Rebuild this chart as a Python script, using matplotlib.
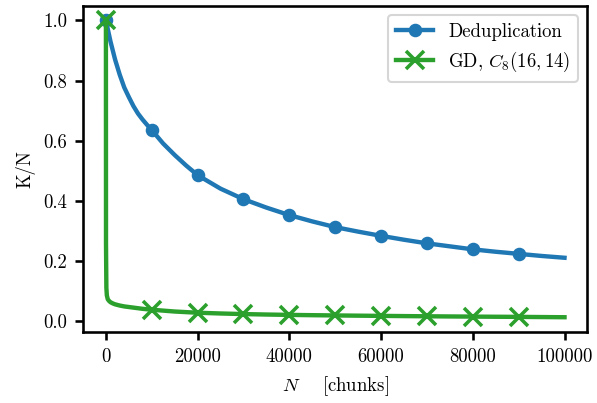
import numpy as np
import matplotlib
matplotlib.use("Agg")
import matplotlib.pyplot as plt

plt.rcParams.update({
    "font.family": "serif",
    "font.serif": ["cmr10"],
    "mathtext.fontset": "cm",
    "axes.formatter.use_mathtext": True,
    "font.size": 9,
    "axes.linewidth": 1.25,
    "xtick.major.width": 1.25,
    "ytick.major.width": 1.25,
    "xtick.major.size": 4,
    "ytick.major.size": 4,
})

# Deduplication series
dedup_n = [0, 1000, 2000, 3000, 4000, 5000, 6000, 7000, 8000, 9000, 10000,
           12500, 15000, 17500, 20000, 25000, 30000, 35000, 40000, 45000,
           50000, 55000, 60000, 65000, 70000, 75000, 80000, 85000, 90000,
           95000, 100000]
dedup_k = [1.0, 0.93, 0.87, 0.82, 0.777, 0.745, 0.715, 0.69, 0.67, 0.652, 0.635,
           0.59, 0.552, 0.517, 0.485, 0.44, 0.405, 0.377, 0.352, 0.331,
           0.312, 0.297, 0.283, 0.27, 0.258, 0.248, 0.238, 0.23, 0.223,
           0.216, 0.21]

# GD, C8(16,14) series
gd_n = [0, 20, 50, 100, 200, 400, 700, 1000, 1500, 2000, 3000, 4000, 5000,
        6000, 7000, 8000, 9000, 10000, 15000, 20000, 25000, 30000, 35000,
        40000, 45000, 50000, 55000, 60000, 65000, 70000, 75000, 80000,
        85000, 90000, 95000, 100000]
gd_k = [1.0, 0.26, 0.2, 0.11, 0.085, 0.072, 0.066, 0.062, 0.058, 0.055, 0.051,
        0.048, 0.046, 0.044, 0.042, 0.040, 0.0385, 0.037, 0.031, 0.027, 0.0245,
        0.0225, 0.021, 0.0198, 0.0188, 0.018, 0.0172, 0.0165, 0.0158, 0.0152,
        0.0146, 0.0141, 0.0136, 0.0132, 0.0126, 0.012]

labels = ["Deduplication", r"GD, $C_8(16,14)$"]

def mark_idx(ns):
    return [i for i, n in enumerate(ns) if n % 10000 == 0 and n < 100000]

fig = plt.figure(figsize=(597 / 150, 403 / 150), dpi=150)
ax = fig.add_axes([0.139, 0.176, 0.845, 0.81])

ax.plot(dedup_n, dedup_k, color="#1f77b4", lw=2.1, marker="o", ms=5.5,
        markevery=mark_idx(dedup_n), label=labels[0])
ax.plot(gd_n, gd_k, color="#2ca02c", lw=2.1, marker="x", ms=8.5, mew=1.7,
        markevery=mark_idx(gd_n), label=labels[1])

ax.set_xlabel(r"$N$    [chunks]")
ax.set_ylabel("K/N")
ax.set_xticks([0, 20000, 40000, 60000, 80000, 100000])
ax.set_yticks([0.0, 0.2, 0.4, 0.6, 0.8, 1.0])
ax.xaxis.set_major_formatter(matplotlib.ticker.FuncFormatter(lambda v, p: f"{int(v)}"))
ax.yaxis.set_major_formatter(matplotlib.ticker.FuncFormatter(lambda v, p: f"{v:.1f}"))
ax.legend(loc="upper right", fontsize=9)

fig.savefig("out.png", dpi=150)
